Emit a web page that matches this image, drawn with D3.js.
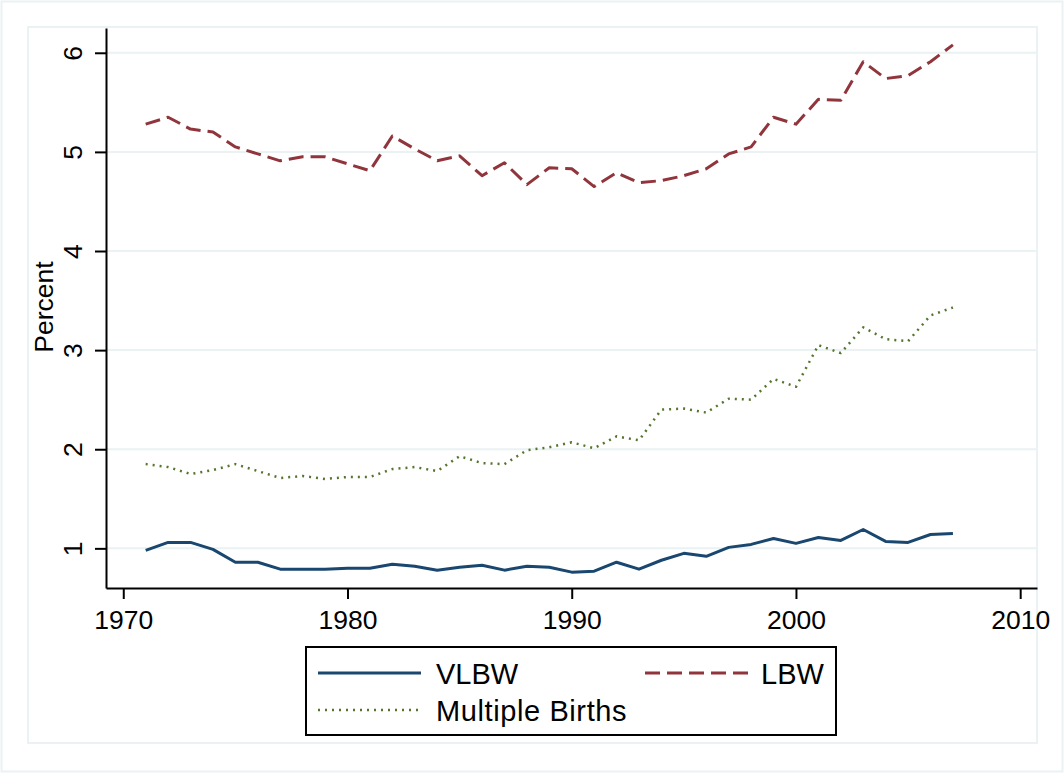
<!DOCTYPE html>
<html>
<head>
<meta charset="utf-8">
<script src="https://cdn.jsdelivr.net/npm/d3@7"></script>
<style>
  body { margin: 0; background: #fff; }
  svg text { font-family: "Liberation Sans", Arial, sans-serif; fill: #000; }
</style>
</head>
<body>
<div id="chart"></div>
<script>
const years = d3.range(1971, 2008);

const vlbw = [0.98, 1.06, 1.06, 0.99, 0.86, 0.86, 0.79, 0.79, 0.79, 0.80,
              0.80, 0.84, 0.82, 0.78, 0.81, 0.83, 0.78, 0.82, 0.81, 0.76,
              0.77, 0.86, 0.79, 0.88, 0.95, 0.92, 1.01, 1.04, 1.10, 1.05,
              1.11, 1.08, 1.19, 1.07, 1.06, 1.14, 1.15];

const lbw = [5.28, 5.35, 5.23, 5.20, 5.05, 4.98, 4.91, 4.95, 4.95, 4.88,
             4.81, 5.16, 5.03, 4.91, 4.96, 4.76, 4.89, 4.67, 4.84, 4.83,
             4.65, 4.79, 4.69, 4.71, 4.76, 4.83, 4.98, 5.05, 5.35, 5.28,
             5.53, 5.52, 5.91, 5.74, 5.77, 5.91, 6.08];

const multiple = [1.85, 1.82, 1.75, 1.79, 1.85, 1.78, 1.71, 1.73, 1.70, 1.72,
                  1.72, 1.80, 1.82, 1.78, 1.93, 1.86, 1.85, 1.99, 2.02, 2.07,
                  2.01, 2.13, 2.09, 2.40, 2.41, 2.37, 2.51, 2.50, 2.71, 2.63,
                  3.05, 2.97, 3.23, 3.11, 3.09, 3.35, 3.43];

const xTicks = [1970, 1980, 1990, 2000, 2010];
const yTicks = [1, 2, 3, 4, 5, 6];

const seriesNames = ["VLBW", "LBW", "Multiple Births"];
const seriesColors = ["#1a476f", "#90353b", "#55752f"];
const seriesDash = [null, "15,7", "2,5"];

var width = 1064, height = 773;

var svg = d3.select("#chart").append("svg")
    .attr("width", width)
    .attr("height", height);

// outer frame and inner plot-region frame
svg.append("rect")
    .attr("x", 1.5).attr("y", 1.5)
    .attr("width", width - 3).attr("height", height - 3)
    .attr("fill", "#fff").attr("stroke", "#eaf2f3").attr("stroke-width", 2);
svg.append("rect")
    .attr("x", 28).attr("y", 27)
    .attr("width", 1037 - 28).attr("height", 743 - 27)
    .attr("fill", "none").attr("stroke", "#eaf2f3").attr("stroke-width", 2);

const plotLeft = 106, plotRight = 1037, plotTop = 28, plotBottom = 588;

const x = d3.scaleLinear().domain([1969.23, 2010.75]).range([plotLeft, plotRight]);
const y = d3.scaleLinear().domain([0.6, 6.25]).range([plotBottom, plotTop]);

// gridlines
svg.append("g")
  .selectAll("line")
  .data(yTicks)
  .join("line")
    .attr("x1", plotLeft).attr("x2", plotRight)
    .attr("y1", d => y(d)).attr("y2", d => y(d))
    .attr("stroke", "#eaf2f3").attr("stroke-width", 2);

// x axis
const xAxis = svg.append("g")
    .attr("transform", `translate(0,${plotBottom})`)
    .call(d3.axisBottom(x).tickValues(xTicks).tickFormat(d3.format("d")).tickSize(11).tickSizeOuter(0).tickPadding(11));
xAxis.select(".domain").attr("stroke", "#000").attr("stroke-width", 2);
xAxis.selectAll(".tick line").attr("stroke", "#000").attr("stroke-width", 2);
xAxis.selectAll("text").attr("font-size", 26.5).attr("font-family", "Liberation Sans, Arial, sans-serif");

// y axis
const yAxis = svg.append("g")
    .attr("transform", `translate(${plotLeft},0)`)
    .call(d3.axisLeft(y).tickValues(yTicks).tickFormat(d3.format("d")).tickSize(11).tickSizeOuter(0).tickPadding(0));
yAxis.select(".domain").attr("stroke", "#000").attr("stroke-width", 2);
yAxis.selectAll(".tick line").attr("stroke", "#000").attr("stroke-width", 2);
yAxis.selectAll("text")
    .attr("font-size", 26.5)
    .attr("font-family", "Liberation Sans, Arial, sans-serif")
    .attr("x", null).attr("dy", null)
    .attr("text-anchor", "middle")
    .attr("transform", "translate(-24,0) rotate(-90)");

svg.append("text")
    .attr("transform", "translate(53,307) rotate(-90)")
    .attr("text-anchor", "middle")
    .attr("font-size", 26.5)
    .text("Percent");

// series lines
const allSeries = [vlbw, lbw, multiple];
const line = d3.line().x((d, i) => x(years[i])).y(d => y(d));

svg.append("g")
  .selectAll("path")
  .data(allSeries)
  .join("path")
    .attr("d", d => line(d))
    .attr("fill", "none")
    .attr("stroke", (d, i) => seriesColors[i])
    .attr("stroke-width", (d, i) => i === 2 ? 2.5 : 3)
    .attr("stroke-dasharray", (d, i) => seriesDash[i])
    .attr("stroke-linejoin", "round");

// legend
const legend = svg.append("g");
legend.append("rect")
    .attr("x", 306).attr("y", 647)
    .attr("width", 836 - 306).attr("height", 735 - 647)
    .attr("fill", "#fff").attr("stroke", "#000").attr("stroke-width", 2);

const legendPos = [[318, 673], [645, 673], [318, 710]];
const legendText = [436, 761, 436];
legendPos.forEach((p, i) => {
  legend.append("line")
      .attr("x1", p[0]).attr("x2", p[0] + 103)
      .attr("y1", p[1]).attr("y2", p[1])
      .attr("stroke", seriesColors[i])
      .attr("stroke-width", i === 2 ? 2.5 : 3)
      .attr("stroke-dasharray", seriesDash[i]);
  legend.append("text")
      .attr("x", legendText[i])
      .attr("y", p[1] + 11)
      .attr("font-size", 29)
      .attr("letter-spacing", i === 2 ? 0.6 : 0)
      .text(seriesNames[i]);
});
</script>
</body>
</html>
